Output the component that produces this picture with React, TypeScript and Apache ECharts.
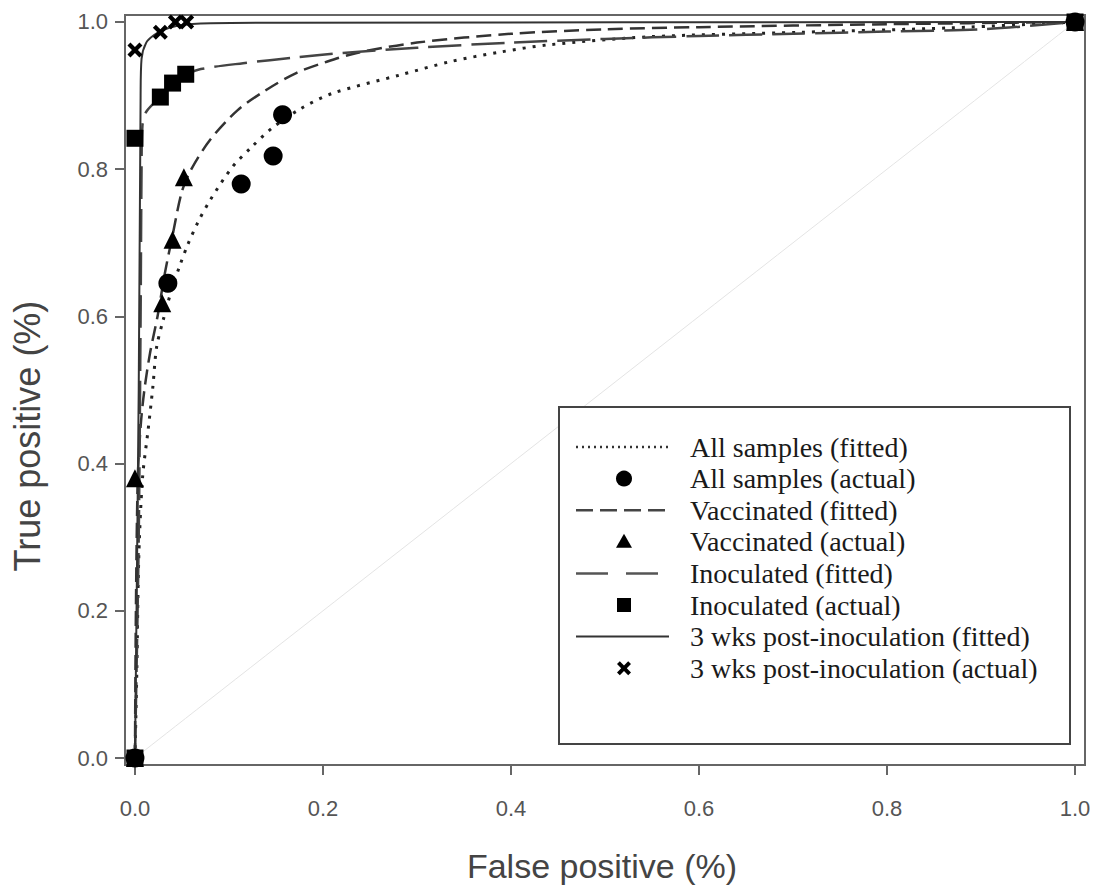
import React, { useEffect, useRef } from "react";
import * as echarts from "echarts";

// ---------- data ----------
const tickValues = [0, 0.2, 0.4, 0.6, 0.8, 1.0];

const chanceX = [0, 1];
const chanceY = [0, 1];

const allFittedX = [0, 0.002, 0.004, 0.008, 0.014, 0.019, 0.023, 0.03, 0.039, 0.048, 0.056, 0.067, 0.08, 0.103, 0.124, 0.146, 0.176, 0.21, 0.282, 0.335, 0.388, 0.44, 0.548, 0.707, 0.867, 1.0];
const allFittedY = [0, 0.12, 0.27, 0.38, 0.446, 0.504, 0.558, 0.595, 0.636, 0.67, 0.697, 0.728, 0.758, 0.802, 0.83, 0.856, 0.882, 0.903, 0.928, 0.946, 0.959, 0.969, 0.98, 0.986, 0.992, 1.0];

const vaccFittedX = [0, 0.001, 0.003, 0.006, 0.01, 0.016, 0.024, 0.032, 0.04, 0.05, 0.06, 0.08, 0.109, 0.14, 0.172, 0.204, 0.236, 0.3, 0.4, 0.5, 0.6, 0.8, 1.0];
const vaccFittedY = [0, 0.2, 0.38, 0.45, 0.5, 0.55, 0.6, 0.66, 0.71, 0.77, 0.8, 0.84, 0.88, 0.908, 0.931, 0.946, 0.958, 0.972, 0.984, 0.99, 0.993, 0.997, 1.0];

const inocFittedX = [0, 0.004, 0.006, 0.007, 0.008, 0.012, 0.027, 0.04, 0.054, 0.07, 0.115, 0.172, 0.221, 0.3, 0.4, 0.5, 0.6, 0.7, 0.8, 0.9, 1.0];
const inocFittedY = [0, 0.3, 0.6, 0.8, 0.86, 0.878, 0.898, 0.914, 0.928, 0.936, 0.944, 0.952, 0.958, 0.965, 0.972, 0.977, 0.981, 0.984, 0.987, 0.99, 1.0];

const wk3FittedX = [0, 0.004, 0.006, 0.007, 0.012, 0.02, 0.03, 0.045, 0.07, 0.15, 1.0];
const wk3FittedY = [0, 0.5, 0.9, 0.95, 0.972, 0.982, 0.989, 0.995, 0.998, 0.999, 1.0];

const allActualX = [0, 0.035, 0.113, 0.147, 0.157, 1.0];
const allActualY = [0, 0.645, 0.78, 0.818, 0.874, 1.0];

const vaccActualX = [0, 0, 0.029, 0.04, 0.052, 1.0];
const vaccActualY = [0, 0.38, 0.618, 0.704, 0.789, 1.0];

const inocActualX = [0, 0, 0.027, 0.04, 0.054, 1.0];
const inocActualY = [0, 0.842, 0.898, 0.917, 0.929, 1.0];

const wk3ActualX = [0, 0, 0.027, 0.043, 0.055, 1.0];
const wk3ActualY = [0, 0.962, 0.986, 1.0, 1.0, 1.0];

const legendLabels = [
  "All samples (fitted)",
  "All samples (actual)",
  "Vaccinated (fitted)",
  "Vaccinated (actual)",
  "Inoculated (fitted)",
  "Inoculated (actual)",
  "3 wks post-inoculation (fitted)",
  "3 wks post-inoculation (actual)",
];

const xTitle = "False positive (%)";
const yTitle = "True positive (%)";

// ---------- helpers ----------
const zip = (xs: number[], ys: number[]) => xs.map((x, i) => [x, ys[i]]);
const CROSS = "path://M0,2 L2,0 L5,3 L8,0 L10,2 L7,5 L10,8 L8,10 L5,7 L2,10 L0,8 L3,5 Z";

const SANS = "'Liberation Sans', Arial, sans-serif";
const SERIF = "'Liberation Serif', 'Times New Roman', serif";

function buildLegend() {
  const left = 559, top = 407, right = 1070, bottom = 744;
  const rowY0 = 447, rowStep = 31.6;
  const sx1 = 576, sx2 = 669, mx = 624, tx = 690;
  const els: any[] = [
    {
      type: "rect",
      shape: { x: left, y: top, width: right - left, height: bottom - top },
      style: { fill: "#fff", stroke: "#444", lineWidth: 2 },
      z: 50,
    },
  ];
  const lineStyles = [
    { lineDash: [2, 4], lineWidth: 2.5, stroke: "#333" },
    null,
    { lineDash: [17, 7], lineWidth: 2.5, stroke: "#444" },
    null,
    { lineDash: [32, 18], lineWidth: 2.5, stroke: "#555" },
    null,
    { lineDash: null, lineWidth: 2, stroke: "#333" },
    null,
  ];
  legendLabels.forEach((lab, i) => {
    const y = rowY0 + i * rowStep;
    const ls = lineStyles[i];
    if (ls) {
      els.push({
        type: "line",
        shape: { x1: sx1, y1: y, x2: sx2, y2: y },
        style: { stroke: ls.stroke, lineWidth: ls.lineWidth, lineDash: ls.lineDash || undefined },
        z: 51,
      });
    } else if (i === 1) {
      els.push({ type: "circle", shape: { cx: mx, cy: y, r: 8 }, style: { fill: "#000" }, z: 51 });
    } else if (i === 3) {
      els.push({
        type: "polygon",
        shape: { points: [[mx, y - 8], [mx + 8, y + 6], [mx - 8, y + 6]] },
        style: { fill: "#000" },
        z: 51,
      });
    } else if (i === 5) {
      els.push({ type: "rect", shape: { x: mx - 7, y: y - 7, width: 14, height: 14 }, style: { fill: "#000" }, z: 51 });
    } else if (i === 7) {
      const s = 1.4;
      const pts = [[0, 2], [2, 0], [5, 3], [8, 0], [10, 2], [7, 5], [10, 8], [8, 10], [5, 7], [2, 10], [0, 8], [3, 5]].map(
        ([a, b]) => [mx - 7 + a * s, y - 7 + b * s]
      );
      els.push({ type: "polygon", shape: { points: pts }, style: { fill: "#000" }, z: 51 });
    }
    els.push({
      type: "text",
      x: tx,
      y: y,
      style: {
        text: lab,
        fill: "#1a1a1a",
        font: `28px ${SERIF}`,
        textVerticalAlign: "middle",
        verticalAlign: "middle",
        textAlign: "left",
      },
      z: 52,
    });
  });
  return els;
}

export default function App() {
  const ref = useRef<HTMLDivElement>(null);
  useEffect(() => {
    if (!ref.current) return;
    const chart = echarts.init(ref.current, null, { renderer: "svg" });
    const lineSeries = (name: string, data: number[][], style: any, z = 3) => ({
      name,
      type: "line",
      data,
      symbol: "none",
      smooth: 0.3,
      lineStyle: style,
      z,
      silent: true,
    });
    const scatter = (name: string, data: number[][], symbol: string, size: number, z = 5) => ({
      name,
      type: "scatter",
      data,
      symbol,
      symbolSize: size,
      itemStyle: { color: "#000", opacity: 1 },
      z,
      silent: true,
    });
    const option: any = {
      animation: false,
      backgroundColor: "#fff",
      grid: {
        left: 125,
        right: 16,
        top: 15,
        bottom: 129,
        show: true,
        borderColor: "#666",
        borderWidth: 2,
        backgroundColor: "transparent",
      },
      xAxis: {
        type: "value",
        min: -0.0106,
        max: 1.0106,
        splitLine: { show: false },
        axisLine: { show: true, onZero: false, lineStyle: { color: "#666", width: 2 } },
        axisTick: { show: true, customValues: tickValues, length: 10, inside: false, lineStyle: { color: "#666", width: 2 } },
        axisLabel: {
          customValues: tickValues,
          formatter: (v: number) => v.toFixed(1),
          color: "#555",
          fontSize: 22,
          fontFamily: SANS,
          margin: 32,
        },
      },
      yAxis: {
        type: "value",
        min: -0.0095,
        max: 1.0095,
        splitLine: { show: false },
        axisLine: { show: true, onZero: false, lineStyle: { color: "#666", width: 2 } },
        axisTick: { show: true, customValues: tickValues, length: 10, inside: false, lineStyle: { color: "#666", width: 2 } },
        axisLabel: {
          customValues: tickValues,
          formatter: (v: number) => v.toFixed(1),
          color: "#555",
          fontSize: 22,
          fontFamily: SANS,
          margin: 17,
        },
      },
      series: [
        lineSeries("Chance", zip(chanceX, chanceY), { color: "#e4e4e4", width: 1 }, 1),
        lineSeries("All samples (fitted)", zip(allFittedX, allFittedY), { color: "#222", width: 3, type: [3, 7] }),
        lineSeries("Vaccinated (fitted)", zip(vaccFittedX, vaccFittedY), { color: "#333", width: 2.5, type: [15, 7] }),
        lineSeries("Inoculated (fitted)", zip(inocFittedX, inocFittedY), { color: "#444", width: 2.5, type: [33, 10] }),
        lineSeries("3 wks post-inoculation (fitted)", zip(wk3FittedX, wk3FittedY), { color: "#333", width: 2 }),
        scatter("All samples (actual)", zip(allActualX, allActualY), "circle", 19),
        scatter("Vaccinated (actual)", zip(vaccActualX, vaccActualY), "triangle", 18),
        scatter("3 wks post-inoculation (actual)", zip(wk3ActualX, wk3ActualY), CROSS, 15),
        scatter("Inoculated (actual)", zip(inocActualX, inocActualY), "rect", 17, 6),
      ],
      graphic: [
        {
          type: "text",
          x: 602,
          y: 866,
          style: {
            text: xTitle,
            fill: "#444",
            font: `34px ${SANS}`,
            textAlign: "center",
            textVerticalAlign: "middle",
            verticalAlign: "middle",
          },
        },
        {
          type: "text",
          x: 27,
          y: 436,
          rotation: Math.PI / 2,
          style: {
            text: yTitle,
            fill: "#444",
            font: `36px ${SANS}`,
            textAlign: "center",
            textVerticalAlign: "middle",
            verticalAlign: "middle",
          },
        },
        ...buildLegend(),
      ],
    };
    chart.setOption(option);
    return () => chart.dispose();
  }, []);
  return (
    <div
      ref={ref}
      style={{ position: "fixed", left: 0, top: 0, width: 1101, height: 894, background: "#fff" }}
    />
  );
}
